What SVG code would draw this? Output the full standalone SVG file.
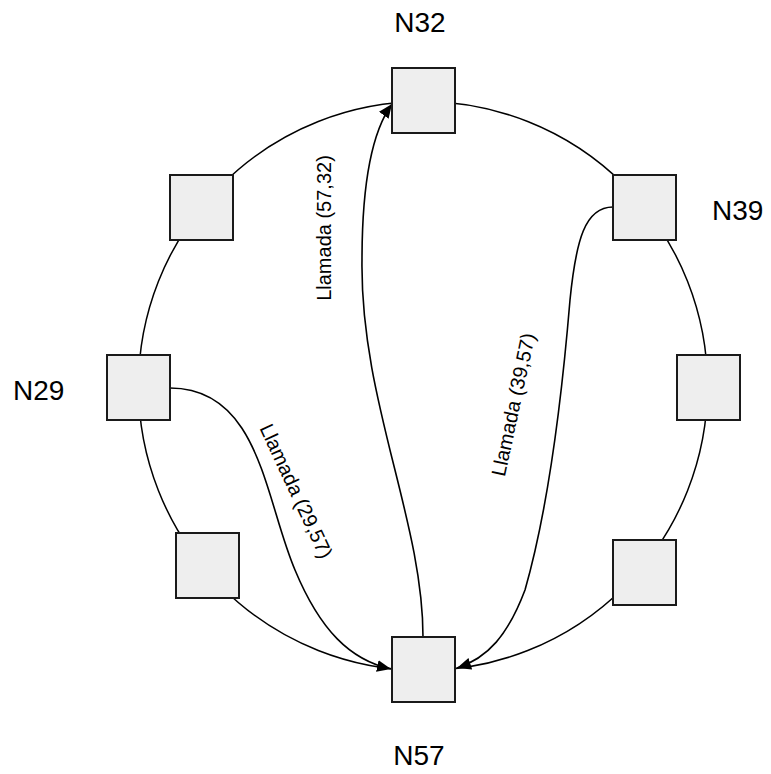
<svg xmlns="http://www.w3.org/2000/svg" width="771" height="774" viewBox="0 0 771 774">
<defs>
<style>
.ring{fill:none;stroke:#000;stroke-width:1.5}
.con{fill:none;stroke:#000;stroke-width:1.6}
.box{fill:#eeeeee;stroke:#1a1a1a;stroke-width:2}
.nl{font-family:"Liberation Sans",Arial,sans-serif;font-size:28px;fill:#000}
.cl{font-family:"Liberation Sans",Arial,sans-serif;font-size:20px;fill:#000}
</style>
<marker id="ah" viewBox="0 0 14 12" refX="14" refY="6" markerWidth="14" markerHeight="12" markerUnits="userSpaceOnUse" orient="auto">
<path d="M0,0 L14,6 L0,12 Z" fill="#000"/>
</marker>
</defs>
<rect width="771" height="774" fill="#fff"/>
<g id="connectors">
<circle class="ring" cx="423" cy="386" r="284.5"/>
<path class="con" marker-end="url(#ah)" d="M423,637 C423,520 360,400 362,260 C362,180 373,130 392,104"/>
<path class="con" marker-end="url(#ah)" d="M170,388 C260,388 265,500 295,570 C320,630 350,660 391,669"/>
<path class="con" marker-end="url(#ah)" d="M613,207 C585,207 576,240 570,300 C560,420 545,520 525,590 C508,635 488,658 457,668"/>
</g>
<g id="n32"><rect class="box" x="392" y="68" width="63" height="65"/><text class="nl" x="420" y="32" text-anchor="middle">N32</text></g>
<g id="n39"><rect class="box" x="613" y="175" width="63" height="65"/><text class="nl" x="712" y="220">N39</text></g>
<g id="n-right"><rect class="box" x="677" y="355" width="63" height="65"/></g>
<g id="n-lower-right"><rect class="box" x="613" y="540" width="63" height="65"/></g>
<g id="n57"><rect class="box" x="392" y="637" width="63" height="65"/><text class="nl" x="419" y="765" text-anchor="middle">N57</text></g>
<g id="n-lower-left"><rect class="box" x="176" y="533" width="63" height="65"/></g>
<g id="n29"><rect class="box" x="107" y="355" width="63" height="65"/><text class="nl" x="13" y="400">N29</text></g>
<g id="n-upper-left"><rect class="box" x="170" y="175" width="63" height="65"/></g>
<g id="labels">
<text class="cl" transform="translate(331,228) rotate(-90)" text-anchor="middle">Llamada (57,32)</text>
<text class="cl" transform="translate(290,494) rotate(65)" text-anchor="middle">Llamada (29,57)</text>
<text class="cl" transform="translate(520,406) rotate(-78)" text-anchor="middle">Llamada (39,57)</text>
</g>
</svg>
